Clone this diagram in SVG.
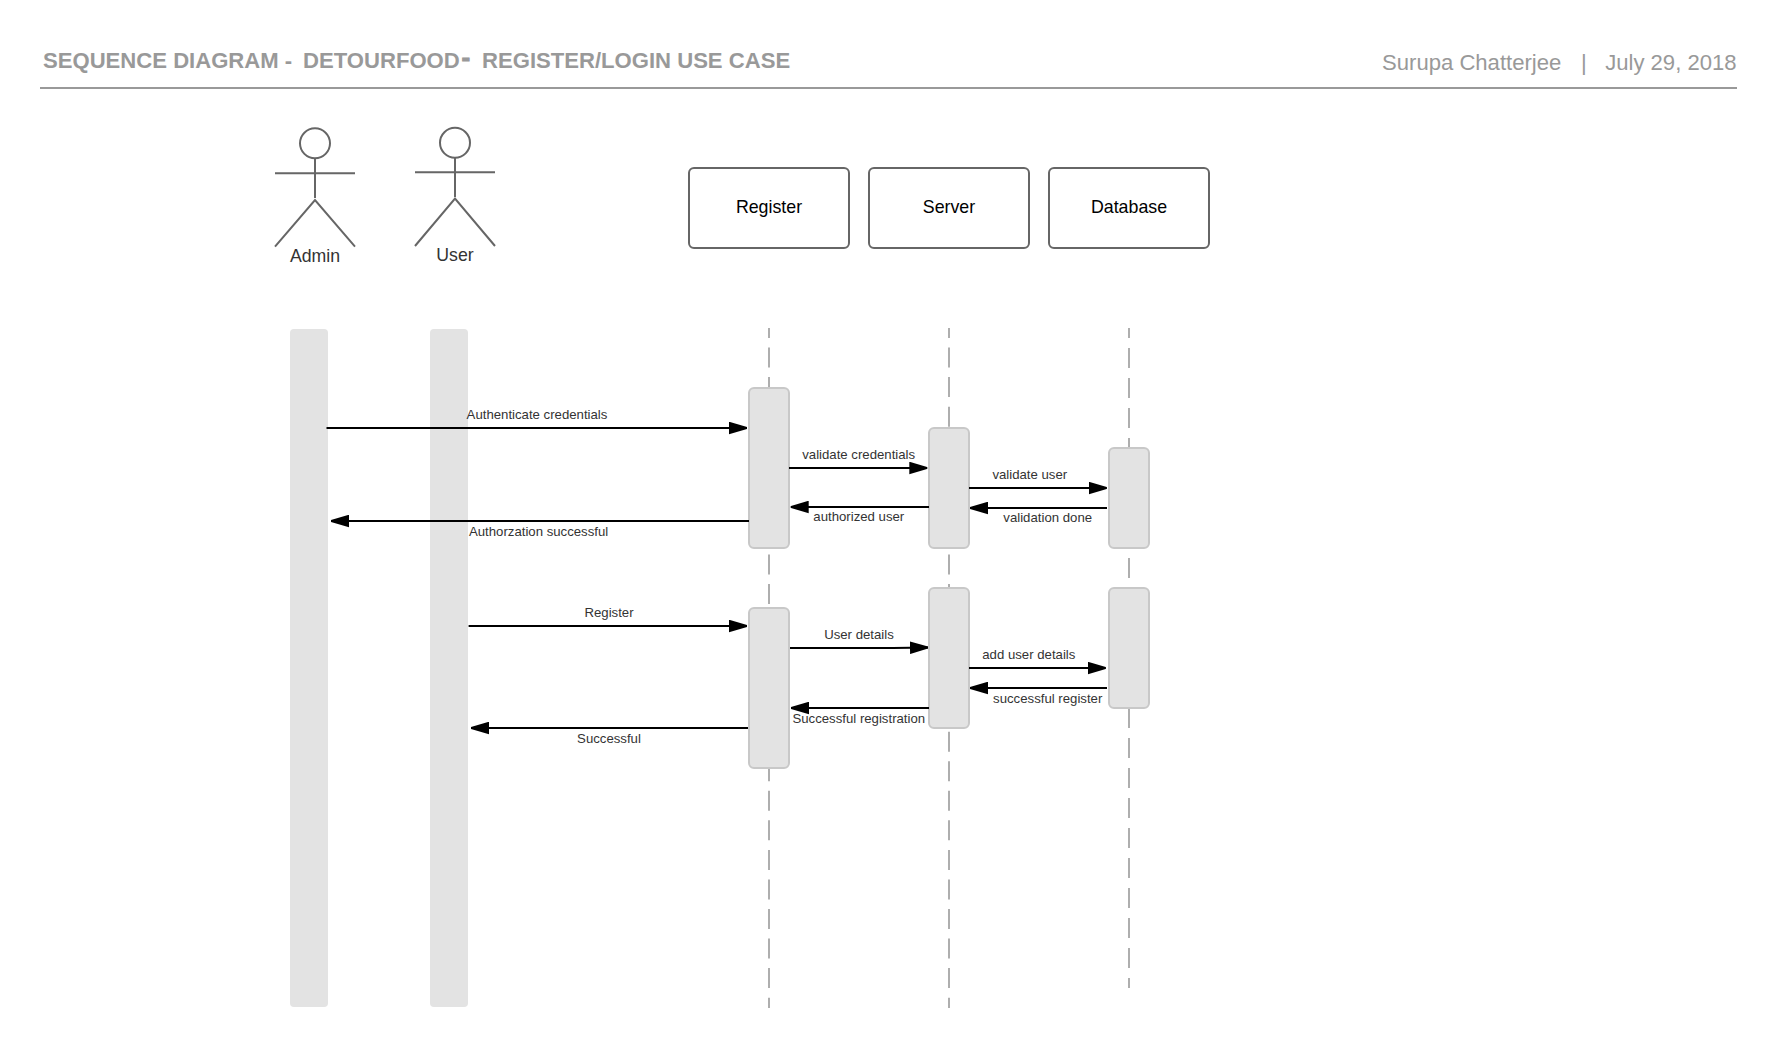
<svg xmlns="http://www.w3.org/2000/svg" width="1777" height="1048" viewBox="0 0 1777 1048">
<defs>
<marker id="ah" markerUnits="userSpaceOnUse" markerWidth="18" markerHeight="13" refX="18" refY="6.5" orient="auto"><path d="M0,0.2 L18,5.6 V7.4 L0,12.8 Z" fill="#000"/></marker>
</defs>
<style>
text{font-family:"Liberation Sans",Arial,sans-serif}
.title{font-size:22.1px;font-weight:bold;fill:#999}
.meta{font-size:22.1px;fill:#999}
.actor{fill:none;stroke:#666;stroke-width:2}
.actorlabel{font-size:17.7px;fill:#333;text-anchor:middle}
.box{fill:#fff;stroke:#666;stroke-width:2}
.boxlabel{font-size:17.8px;fill:#000;text-anchor:middle}
.bar{fill:#e3e3e3}
.act{fill:#e3e3e3;stroke:#c8c8c8;stroke-width:2}
.life{stroke:#aeaeae;stroke-width:2;stroke-dasharray:20 9.55;stroke-dashoffset:10;fill:none}
.life2{stroke-dasharray:20 10}
.msg{stroke:#000;stroke-width:2;fill:none;marker-end:url(#ah)}
.lbl{font-size:13.2px;fill:#333;text-anchor:middle}
</style>
<rect width="1777" height="1048" fill="#fff"/>
<g id="header">
<text class="title" x="43" y="68">SEQUENCE DIAGRAM -</text>
<text class="title" x="303" y="68">DETOURFOOD</text>
<text class="title" x="461.5" y="66" style="font-size:26px;stroke:#999;stroke-width:0.9px">-</text>
<text class="title" x="482" y="68">REGISTER/LOGIN USE CASE</text>
<text class="meta" x="1382" y="70">Surupa Chatterjee</text>
<text class="meta" x="1581" y="70">|</text>
<text class="meta" x="1736.6" y="70" text-anchor="end">July 29, 2018</text>
<line x1="40" y1="88" x2="1737" y2="88" stroke="#999" stroke-width="2"/>
</g>
<g id="lifelines">
<path class="life" d="M769,328 V1008"/>
<path class="life" d="M949,328 V1008"/>
<path class="life life2" d="M1129,328 V988"/>
</g>
<g id="lane-admin"><rect class="bar" x="290" y="329" width="38" height="678" rx="4"/></g>
<g id="lane-user"><rect class="bar" x="430" y="329" width="38" height="678" rx="4"/></g>
<g id="actor-admin">
<circle class="actor" cx="315" cy="143.3" r="15"/>
<path class="actor" d="M315,158.3 V198 M275,173.3 H355 M275,246.7 L315,200 L355,246.7"/>
<text class="actorlabel" x="315" y="261.7">Admin</text>
</g>
<g id="actor-user">
<circle class="actor" cx="455" cy="142.8" r="15"/>
<path class="actor" d="M455,157.8 V197 M415,172.3 H495 M415,246 L455,198.5 L495,246"/>
<text class="actorlabel" x="455" y="260.7">User</text>
</g>
<g id="node-register"><rect class="box" x="689" y="168" width="160" height="80" rx="5"/><text class="boxlabel" x="769" y="212.7">Register</text></g>
<g id="node-server"><rect class="box" x="869" y="168" width="160" height="80" rx="5"/><text class="boxlabel" x="949" y="212.7">Server</text></g>
<g id="node-database"><rect class="box" x="1049" y="168" width="160" height="80" rx="5"/><text class="boxlabel" x="1129" y="212.7">Database</text></g>
<g id="activations">
<rect class="act" x="749" y="388" width="40" height="160" rx="5"/>
<rect class="act" x="929" y="428" width="40" height="120" rx="5"/>
<rect class="act" x="1109" y="448" width="40" height="100" rx="5"/>
<rect class="act" x="749" y="608" width="40" height="160" rx="5"/>
<rect class="act" x="929" y="588" width="40" height="140" rx="5"/>
<rect class="act" x="1109" y="588" width="40" height="120" rx="5"/>
</g>
<g id="connectors">
<path class="msg" d="M326.5,428 H747"/>
<path class="msg" d="M749,521 H331"/>
<path class="msg" d="M789,468 H927.3"/>
<path class="msg" d="M929,507 H790.7"/>
<path class="msg" d="M969,488 H1106.7"/>
<path class="msg" d="M1107,508 H970"/>
<path class="msg" d="M468.6,626 H747"/>
<path class="msg" d="M748,728 H471"/>
<path class="msg" d="M790,648 H893 L928,647.5"/>
<path class="msg" d="M969,668 H1105.7"/>
<path class="msg" d="M1107,688 H970"/>
<path class="msg" d="M929,708 H791"/>
</g>
<g id="labels">
<text class="lbl" x="537" y="418.6">Authenticate credentials</text>
<text class="lbl" x="538.6" y="535.6">Authorzation successful</text>
<text class="lbl" x="858.7" y="459">validate credentials</text>
<text class="lbl" x="858.8" y="520.8">authorized user</text>
<text class="lbl" x="1029.8" y="479">validate user</text>
<text class="lbl" x="1047.7" y="521.9">validation done</text>
<text class="lbl" x="609" y="617">Register</text>
<text class="lbl" x="609" y="743">Successful</text>
<text class="lbl" x="859" y="639">User details</text>
<text class="lbl" x="1028.8" y="659">add user details</text>
<text class="lbl" x="1047.7" y="703">successful register</text>
<text class="lbl" x="858.8" y="723">Successful registration</text>
</g>
</svg>
